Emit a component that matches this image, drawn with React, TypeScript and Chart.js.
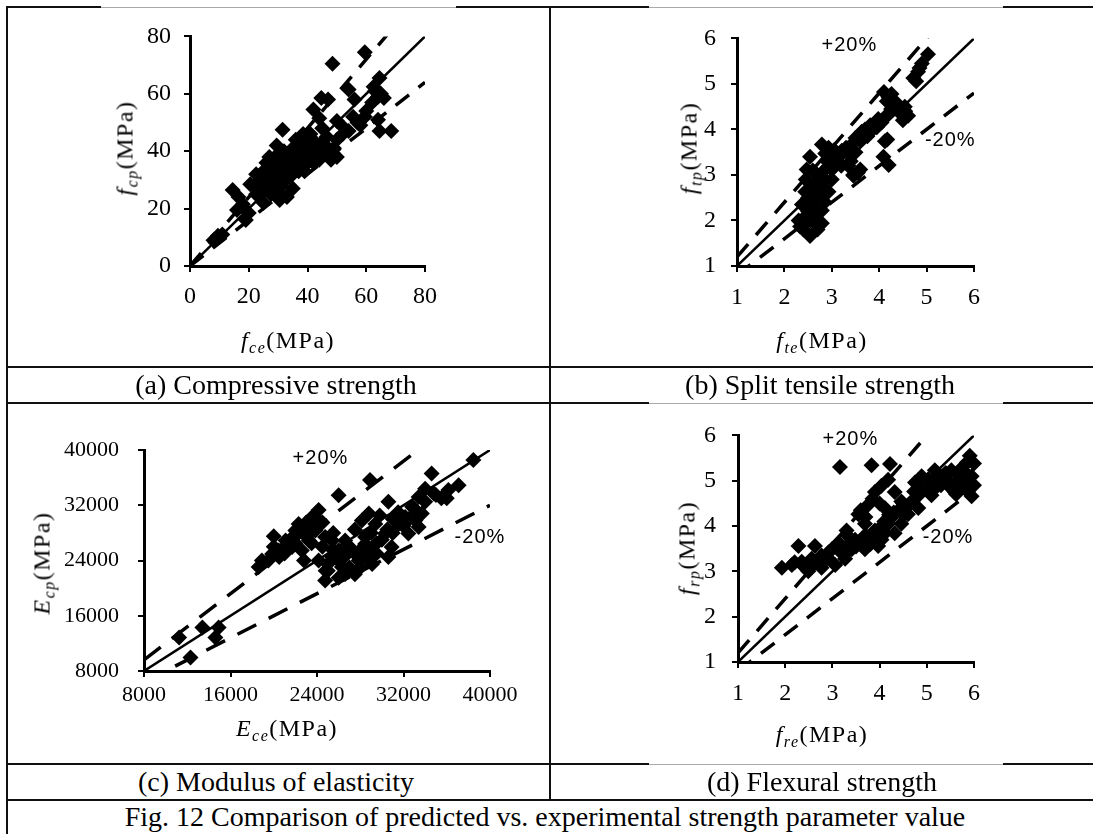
import React, { useEffect, useRef } from "react";
import { Chart, registerables } from "chart.js";

Chart.register(...registerables);

const SERIF = "'Liberation Serif', 'Times New Roman', serif";
const SANS = "'Liberation Sans', Arial, sans-serif";

// ---------- (a) Compressive strength ----------
const compExpX = [48.5, 59.5, 64.5, 63, 65, 66, 64, 62.5, 54, 47, 42, 56, 59.5, 64.5, 68.5, 44, 50, 52, 46.5, 38.5, 31.5, 29.5, 26, 33, 38.5, 44, 48.5, 50, 41, 35, 29.5, 25, 22.5, 20.5, 26, 29.5, 33, 35, 30.5, 27.5, 22.5, 14.5, 16.5, 18, 20, 16, 19, 9.5, 8, 11, 28, 31, 36, 40, 43, 46, 42, 37, 34, 27, 24, 39, 45, 47, 30, 32, 36, 25, 33, 58, 64, 44.7, 55.5, 41.8,
  27, 29, 31, 33, 35, 37, 38, 40, 41, 43, 45, 47, 49, 48, 44, 39, 36, 34, 32, 30, 28, 26, 24, 23, 25, 28, 31, 34, 37, 42, 46, 50, 52, 54, 57, 60, 62, 45, 41, 38, 35, 30, 27];
const compPredY = [70.5, 74.5, 65.5, 61, 60, 58.5, 59, 62.5, 61.5, 58, 54.5, 58, 52, 47, 47, 51.5, 50.5, 48.5, 45, 46, 47.5, 42, 36, 37, 39.5, 40.5, 39.5, 38, 43, 38.5, 35, 33, 32, 28.5, 29.5, 26, 30.5, 27, 23, 25, 25, 26.5, 24, 21.5, 18.5, 19.5, 16, 10.5, 9, 11, 32, 33, 35, 36, 38, 39, 41, 42, 34, 27, 28, 33, 43, 41, 30, 40, 44, 22, 24, 49, 51, 58.5, 52, 44,
  33, 31, 35, 33, 36, 37, 36, 38, 39, 41, 40, 40, 41, 37, 37, 41, 40, 39, 36, 37, 35, 31, 30, 27, 26, 29, 28, 31, 33, 36, 42, 44, 46, 47, 50, 54, 57, 48, 46, 44, 41, 39, 38];
const compTicks = [0, 80, 20];

// ---------- (b) Split tensile strength ----------
const tensExpX = [5.03, 4.9, 4.82, 4.72, 4.78, 4.85, 4.26, 4.16, 4.33, 4.1, 4.2, 4.54, 4.61, 4.5, 4.55, 3.98, 3.81, 3.63, 3.5, 3.7, 3.9, 4.12, 4.09, 4.2, 3.6, 3.46, 3.55, 3.35, 3.21, 3.4, 2.93, 2.79, 2.86, 3.1, 3.0, 3.05, 2.54, 2.47, 2.51, 2.44, 2.37, 2.44, 2.4, 2.54, 2.65, 2.79, 2.79, 2.72, 2.68, 2.79, 2.93, 2.93, 2.85, 2.3, 2.33, 2.6, 2.55, 3.0, 3.2, 3.75, 3.6, 4.17,
  2.5, 2.6, 2.7, 2.75, 2.6, 2.45, 2.9, 2.95, 3.05, 3.15, 3.3, 3.45, 3.55, 3.65, 3.8, 3.95, 4.05, 4.15, 4.25, 4.35, 4.4, 2.5, 2.65, 2.7, 2.45, 2.85, 2.8, 3.35, 3.45, 3.5];
const tensPredY = [5.65, 5.45, 5.27, 5.13, 5.06, 5.35, 4.78, 4.62, 4.5, 4.82, 4.7, 4.5, 4.3, 4.2, 4.4, 4.23, 4.09, 3.95, 3.81, 4.0, 4.1, 3.74, 3.4, 3.22, 3.12, 2.98, 3.05, 3.47, 3.53, 3.3, 3.6, 3.67, 3.47, 3.33, 3.12, 3.4, 3.4, 3.12, 2.84, 2.63, 2.35, 2.08, 1.8, 1.66, 1.94, 1.94, 2.22, 2.5, 2.84, 3.05, 3.19, 2.63, 2.9, 2.0, 1.87, 2.3, 2.0, 2.9, 3.2, 3.85, 3.75, 3.78,
  2.5, 2.7, 3.0, 2.65, 3.1, 2.9, 3.3, 3.45, 3.55, 3.4, 3.6, 3.7, 3.85, 3.9, 4.0, 4.05, 4.15, 4.3, 4.45, 4.6, 4.4, 2.2, 2.1, 1.8, 1.95, 2.4, 2.75, 3.2, 3.0, 3.5];
const tensTicks = [1, 6, 1];

// ---------- (c) Modulus of elasticity ----------
const modExpX = [38460, 34600, 37100, 36150, 35500, 34000, 33400, 32800, 32150, 31550, 33100, 32450, 33400, 33700, 30600, 28800, 28150, 29400, 30300, 30900, 30600, 28900, 26000, 24150, 23550, 22300, 22000, 21100, 20450, 19850, 18900, 18600, 23850, 24750, 23250, 21700, 22600, 25400, 26600, 27250, 28450, 27850, 26300, 26600, 25400, 24150, 29100, 28450, 24750, 14900, 14600, 13400, 11250, 12300, 27500, 29500, 31000, 26000, 25000, 29800, 34800, 22800, 20000,
  19500, 20500, 21000, 21500, 22000, 22500, 23000, 23500, 24000, 24500, 23000, 22000, 20000, 21000, 23500, 24500, 25500,
  25000, 25500, 26000, 26500, 27000, 27000, 27500, 28000, 28000, 28500, 29000, 29500, 29000, 30000, 30500, 31000, 31500, 32000, 32500, 33000, 34000, 35000, 36000, 27500, 26000, 24800];
const modPredY = [38550, 36600, 34900, 34200, 33000, 34400, 33200, 31800, 30300, 29300, 29800, 27900, 28850, 30800, 32500, 30800, 29800, 29300, 27900, 25950, 24500, 35650, 33450, 31300, 30300, 29300, 28350, 26900, 25450, 24950, 24000, 23050, 28350, 27400, 26900, 25950, 25450, 26900, 26900, 25450, 26400, 24000, 23050, 22050, 24500, 24000, 23500, 27400, 21100, 14300, 12850, 14300, 12850, 9950, 28500, 25000, 28000, 25500, 22500, 30500, 33700, 24000, 27500,
  24000, 24500, 26000, 27000, 27500, 28500, 29500, 29000, 30000, 29500, 27500, 26500, 26000, 25000, 26500, 26000, 28000,
  23500, 25500, 24000, 24500, 23000, 26000, 25000, 25500, 23000, 24500, 25500, 26500, 28000, 27000, 28500, 30000, 31000, 29000, 30000, 31500, 32500, 33500, 33000, 22000, 21500, 22500];
const modTicks = [8000, 40000, 8000];

// ---------- (d) Flexural strength ----------
const flexExpX = [3.16, 3.83, 4.22, 4.18, 4.04, 3.9, 4.32, 4.46, 5.91, 6.0, 5.95, 6.0, 5.87, 5.62, 5.4, 5.03, 5.17, 4.73, 5.76, 5.62, 5.95, 4.89, 4.75, 5.17, 5.31, 5.52, 5.59, 5.1, 4.82, 4.6, 4.46, 4.32, 4.04, 3.97, 3.69, 3.48, 3.34, 3.69, 3.55, 3.76, 4.11, 4.25, 3.13, 2.92, 2.77, 2.63, 2.28, 2.56, 2.35, 2.14, 1.93, 2.49, 2.77, 3.06, 3.27, 3.41, 3.83, 4.11, 4.18, 3.9, 4.5, 5.3, 5.8,
  2.2, 2.4, 2.6, 2.8, 2.9, 3.0, 3.2, 3.3, 3.5, 3.6, 3.7, 3.8, 3.9, 4.0, 4.1, 4.2, 4.3, 4.4, 4.5, 4.6, 4.7, 4.8, 4.9, 5.0, 5.1, 5.2, 5.3, 5.45, 5.5, 5.7, 5.8, 5.85, 5.7, 3.6, 3.7, 3.85, 4.0, 3.3];
const flexPredY = [5.3, 5.34, 5.37, 5.02, 4.89, 4.75, 4.75, 4.54, 5.55, 5.38, 5.1, 4.9, 4.76, 4.97, 5.17, 5.03, 4.83, 4.76, 5.3, 4.7, 4.66, 5.1, 4.96, 5.23, 5.02, 5.23, 4.75, 4.68, 4.4, 4.26, 4.05, 3.84, 3.7, 3.56, 3.49, 3.7, 3.77, 4.05, 4.26, 4.47, 4.4, 4.19, 3.63, 3.42, 3.35, 3.56, 3.56, 3.28, 3.21, 3.14, 3.08, 3.0, 3.08, 3.14, 3.28, 3.49, 3.7, 3.84, 4.05, 3.9, 4.5, 4.9, 5.0,
  3.2, 3.1, 3.15, 3.2, 3.3, 3.5, 3.4, 3.55, 3.55, 3.65, 3.8, 3.6, 3.75, 3.95, 4.1, 4.25, 4.3, 4.35, 4.25, 4.45, 4.55, 4.65, 4.8, 4.85, 4.95, 5.05, 5.1, 5.0, 4.85, 5.1, 5.2, 5.4, 4.9, 4.35, 4.2, 4.6, 4.5, 3.9];
const flexTicks = [1, 6, 1];

// reference lines: predicted = factor x experimental
const lineFactors = [1.2, 1.0, 0.8];
const bandLabelTexts = ["+20%", "-20%"];

type Spec = {
  xs: number[];
  ys: number[];
  ticks: number[];
  canvas: { left: number; top: number; width: number; height: number };
  plot: { L: number; T: number; R: number; B: number };
  yPad: number;
  xPad: number;
  tickFont: { family: string; size: number };
  dash: number[];
  labels: { x: number; y: number }[];
};

const bandLabelPlugin = {
  id: "bandLabels",
  afterDatasetsDraw(chart: any) {
    const opts = chart.options.plugins.bandLabels;
    if (!opts || !opts.items) return;
    const ctx = chart.ctx;
    ctx.save();
    ctx.font = `20px ${SANS}`;
    try {
      (ctx as any).letterSpacing = "1px";
    } catch (e) {}
    ctx.fillStyle = "#000";
    ctx.textAlign = "center";
    ctx.textBaseline = "middle";
    opts.items.forEach((it: any) => {
      const px = chart.scales.x.getPixelForValue(it.x);
      const py = chart.scales.y.getPixelForValue(it.y);
      ctx.fillText(it.text, px, py);
    });
    ctx.restore();
  },
};

function Panel({ spec }: { spec: Spec }) {
  const ref = useRef<HTMLCanvasElement>(null);
  useEffect(() => {
    const { canvas: c, plot: p, ticks } = spec;
    const yW = 110;
    const xH = 40;
    const padding = {
      left: p.L - c.left - yW,
      top: p.T - c.top,
      right: c.left + c.width - p.R,
      bottom: c.top + c.height - p.B - xH,
    };
    const [min, max, step] = ticks;
    const points = spec.xs.map((x, i) => ({ x, y: spec.ys[i] }));
    const lines = lineFactors.map((f) => ({
      data: [
        { x: min, y: f * min },
        { x: max, y: f * max },
      ],
      showLine: true,
      borderColor: "#000",
      borderWidth: f === 1 ? 2.5 : 3.5,
      borderDash: f === 1 ? [] : spec.dash,
      pointRadius: 0,
      fill: false,
    }));
    const axisCommon = {
      type: "linear" as const,
      min,
      max,
      grid: {
        display: true,
        drawOnChartArea: false,
        drawTicks: true,
        tickLength: 6,
        color: "#000",
        lineWidth: 2,
      },
      border: { display: true, color: "#000", width: 3 },
    };
    const chart = new Chart(ref.current as HTMLCanvasElement, {
      type: "scatter",
      data: {
        datasets: [
          {
            data: points,
            pointStyle: "rectRot",
            pointRadius: 8,
            pointBackgroundColor: "#000",
            pointBorderColor: "#000",
            pointBorderWidth: 0,
            clip: false,
          } as any,
          ...lines,
        ],
      },
      options: {
        responsive: false,
        animation: false,
        devicePixelRatio: 1,
        layout: { padding },
        plugins: {
          legend: { display: false },
          tooltip: { enabled: false },
          bandLabels: {
            items: spec.labels.map((l, i) => ({ ...l, text: bandLabelTexts[i] })),
          },
        } as any,
        scales: {
          x: {
            ...axisCommon,
            afterFit: (s: any) => {
              s.height = xH;
            },
            ticks: {
              stepSize: step,
              font: spec.tickFont,
              color: "#000",
              padding: spec.xPad,
              maxRotation: 0,
              autoSkip: false,
              callback: (v: any) => String(v),
            },
          },
          y: {
            ...axisCommon,
            afterFit: (s: any) => {
              s.width = yW;
            },
            ticks: {
              stepSize: step,
              font: spec.tickFont,
              color: "#000",
              padding: spec.yPad,
              autoSkip: false,
              callback: (v: any) => String(v),
            },
          },
        },
      },
      plugins: [bandLabelPlugin],
    });
    return () => chart.destroy();
  }, [spec]);
  const c = spec.canvas;
  return (
    <canvas
      ref={ref}
      width={c.width}
      height={c.height}
      style={{ position: "absolute", left: c.left, top: c.top, width: c.width, height: c.height }}
    />
  );
}

const bigTick = { family: SERIF, size: 24 };

const specs: Spec[] = [
  {
    xs: compExpX,
    ys: compPredY,
    ticks: compTicks,
    canvas: { left: 9, top: 9, width: 540, height: 320 },
    plot: { L: 190, T: 25, R: 425, B: 266 },
    yPad: 13,
    xPad: 10,
    tickFont: bigTick,
    dash: [17, 12],
    labels: [],
  },
  {
    xs: tensExpX,
    ys: tensPredY,
    ticks: tensTicks,
    canvas: { left: 552, top: 9, width: 541, height: 320 },
    plot: { L: 737, T: 25, R: 974, B: 266 },
    yPad: 15,
    xPad: 11,
    tickFont: bigTick,
    dash: [17, 12],
    labels: [
      { x: 3.37, y: 5.85 },
      { x: 5.5, y: 3.76 },
    ],
  },
  {
    xs: modExpX,
    ys: modPredY,
    ticks: modTicks,
    canvas: { left: 9, top: 405, width: 540, height: 318 },
    plot: { L: 144, T: 450, R: 490, B: 671 },
    yPad: 19,
    xPad: 5,
    tickFont: { family: SERIF, size: 22 },
    dash: [21, 14],
    labels: [
      { x: 24320, y: 38840 },
      { x: 39070, y: 27400 },
    ],
  },
  {
    xs: flexExpX,
    ys: flexPredY,
    ticks: flexTicks,
    canvas: { left: 552, top: 405, width: 541, height: 318 },
    plot: { L: 738, T: 422, R: 974, B: 662 },
    yPad: 16,
    xPad: 11,
    tickFont: bigTick,
    dash: [17, 12],
    labels: [
      { x: 3.38, y: 5.9 },
      { x: 5.45, y: 3.75 },
    ],
  },
];

function AxisTitle({ main, sub, cx, cy, rotate }: { main: string; sub: string; cx: number; cy: number; rotate?: boolean }) {
  return (
    <div
      style={{
        position: "absolute",
        left: cx,
        top: cy,
        transform: `translate(-50%, -50%)${rotate ? " rotate(-90deg)" : ""}`,
        whiteSpace: "nowrap",
        fontFamily: SERIF,
        fontSize: 24,
        letterSpacing: "1.5px",
        lineHeight: "28px",
        color: "#000",
      }}
    >
      <i>{main}</i>
      <span style={{ fontSize: 16, fontStyle: "italic", position: "relative", top: 5 }}>{sub}</span>
      (MPa)
    </div>
  );
}

function Caption({ text, cx, cy }: { text: string; cx: number; cy: number }) {
  return (
    <div
      style={{
        position: "absolute",
        left: cx,
        top: cy,
        transform: "translate(-50%, -50%)",
        whiteSpace: "nowrap",
        fontFamily: SERIF,
        fontSize: 28,
        lineHeight: "32px",
        color: "#000",
      }}
    >
      {text}
    </div>
  );
}

const rule = (key: string, left: number, top: number, width: number, height: number, bg: string) => (
  <div key={key} style={{ position: "absolute", left, top, width, height, background: bg }} />
);

export default function App() {
  return (
    <div style={{ position: "absolute", left: 0, top: 0, width: 1093, height: 834, background: "#fff", overflow: "hidden" }}>
      {[7, 367, 403, 764, 800].map((y) => rule("h" + y, 6, y - 1, 1087, 2, "#111"))}
      {rule("vl", 6, 6, 2, 828, "#111")}
      {rule("vm", 549, 6, 2, 795, "#111")}
      {/* chart pictures overlapping the table rules */}
      {rule("o1", 101, 5, 355, 4, "#fff")}
      {rule("o1b", 101, 7, 355, 1, "#aaa")}
      {rule("o2", 649, 5, 354, 4, "#fff")}
      {rule("o2b", 649, 7, 354, 1, "#aaa")}
      {rule("o3", 649, 401, 354, 4, "#fff")}
      {rule("o3b", 649, 403, 354, 1, "#aaa")}
      {rule("o4", 649, 762, 354, 4, "#fff")}
      {rule("o4b", 649, 764, 354, 1, "#aaa")}
      {specs.map((s, i) => (
        <Panel key={i} spec={s} />
      ))}
      <AxisTitle main="f" sub="ce" cx={288} cy={341} />
      <AxisTitle main="f" sub="cp" cx={126} cy={148} rotate />
      <AxisTitle main="f" sub="te" cx={822} cy={341} />
      <AxisTitle main="f" sub="tp" cx={690} cy={148} rotate />
      <AxisTitle main="E" sub="ce" cx={287} cy={729} />
      <AxisTitle main="E" sub="cp" cx={43} cy={563} rotate />
      <AxisTitle main="f" sub="re" cx={822} cy={735} />
      <AxisTitle main="f" sub="rp" cx={688} cy={548} rotate />
      <Caption text="(a) Compressive strength" cx={276} cy={385} />
      <Caption text="(b) Split tensile strength" cx={820} cy={385} />
      <Caption text="(c) Modulus of elasticity" cx={276} cy={782} />
      <Caption text="(d) Flexural strength" cx={822} cy={782} />
      <Caption text="Fig. 12 Comparison of predicted vs. experimental strength parameter value" cx={545} cy={817} />
    </div>
  );
}
